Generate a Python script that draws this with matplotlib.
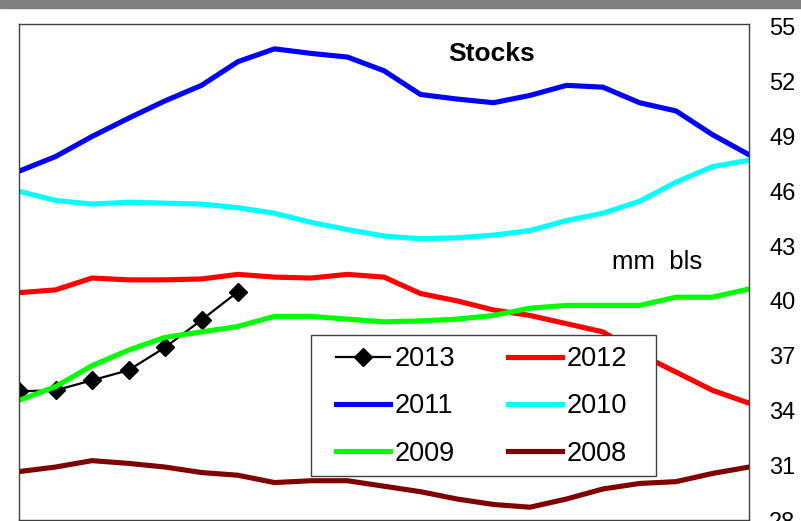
import matplotlib
matplotlib.use('Agg')
import matplotlib.pyplot as plt
from matplotlib.patches import Rectangle

plt.rcParams['font.family'] = ['Liberation Sans', 'DejaVu Sans']

weeks = list(range(21))
s2013 = [35.05, 35.1, 35.65, 36.2, 37.45, 38.95, 40.5]
s2012 = [40.45, 40.6, 41.25, 41.15, 41.15, 41.2, 41.45, 41.3, 41.25, 41.45, 41.3,
         40.4, 40.0, 39.5, 39.2, 38.75, 38.3, 37.1, 36.1, 35.1, 34.4]
s2011 = [47.1, 47.9, 49.0, 50.0, 50.95, 51.8, 53.1, 53.8, 53.55, 53.35, 52.6,
         51.3, 51.05, 50.85, 51.25, 51.8, 51.7, 50.85, 50.4, 49.1, 48.0]
s2010 = [46.0, 45.5, 45.3, 45.4, 45.35, 45.3, 45.1, 44.8, 44.3, 43.9, 43.55,
         43.4, 43.45, 43.6, 43.85, 44.4, 44.8, 45.45, 46.5, 47.35, 47.7]
s2009 = [34.55, 35.3, 36.45, 37.3, 38.0, 38.3, 38.6, 39.15, 39.15, 39.0, 38.85,
         38.9, 39.0, 39.2, 39.6, 39.75, 39.75, 39.75, 40.2, 40.2, 40.65]
s2008 = [30.65, 30.9, 31.25, 31.1, 30.9, 30.6, 30.45, 30.05, 30.15, 30.15, 29.85,
         29.55, 29.15, 28.85, 28.7, 29.15, 29.7, 30.0, 30.1, 30.55, 30.9]
yticks = [28, 31, 34, 37, 40, 43, 46, 49, 52, 55]

W, H = 801, 521
fig = plt.figure(figsize=(W / 100, H / 100), dpi=100)
# gray strip across the top
fig.patches.append(Rectangle((0, 1 - 8 / H), 1, 8 / H, transform=fig.transFigure,
                             color='#808080', zorder=0))
ax_l, ax_b, ax_w, ax_h = 19, 1, 730, 496   # pixels
ax = fig.add_axes([ax_l / W, ax_b / H, ax_w / W, ax_h / H])


def px(x, y):
    # image pixel (from top-left) -> axes fraction
    return (x - ax_l) / ax_w, (H - ax_b - y) / ax_h


h13, = ax.plot(weeks[:len(s2013)], s2013, '-', color='black', lw=1.6,
               marker='D', ms=9, label='2013')
h12, = ax.plot(weeks, s2012, color='#ff0000', lw=3.7, label='2012')
h11, = ax.plot(weeks, s2011, color='#0000ff', lw=3.7, label='2011')
h10, = ax.plot(weeks, s2010, color='#00ffff', lw=3.7, label='2010')
h09, = ax.plot(weeks, s2009, color='#00ff00', lw=3.7, label='2009')
h08, = ax.plot(weeks, s2008, color='#800000', lw=3.7, label='2008')

ax.set_xlim(0, 20)
ax.set_ylim(28, 55.16)
ax.set_xticks([])
ax.yaxis.tick_right()
ax.set_yticks(yticks)
ax.tick_params(axis='y', length=0, pad=14.5, labelsize=17)
for sp in ax.spines.values():
    sp.set_color('#404040')
    sp.set_linewidth(1)

ax.text(*px(492, 42), 'Stocks', transform=ax.transAxes, ha='center', va='top',
        fontsize=19, fontweight='bold')
ax.text(*px(657, 262), 'mm  bls', transform=ax.transAxes, ha='center', va='center',
        fontsize=18.5)

# legend box drawn by hand, entries placed inside it
x0, y0 = px(311, 476)
x1, y1 = px(656, 335)
ax.add_patch(Rectangle((x0, y0), x1 - x0, y1 - y0, transform=ax.transAxes,
                       facecolor='white', edgecolor='#404040', lw=1, zorder=5))
leg = ax.legend(handles=[h13, h11, h09, h12, h10, h08], ncol=2, fontsize=19.5,
                loc='upper left', bbox_to_anchor=px(336, 346), frameon=False,
                handlelength=2.0, handletextpad=0.15, columnspacing=1.96,
                labelspacing=0.79, borderpad=0, borderaxespad=0)
leg.set_zorder(6)

fig.savefig('out.png', dpi=100)
